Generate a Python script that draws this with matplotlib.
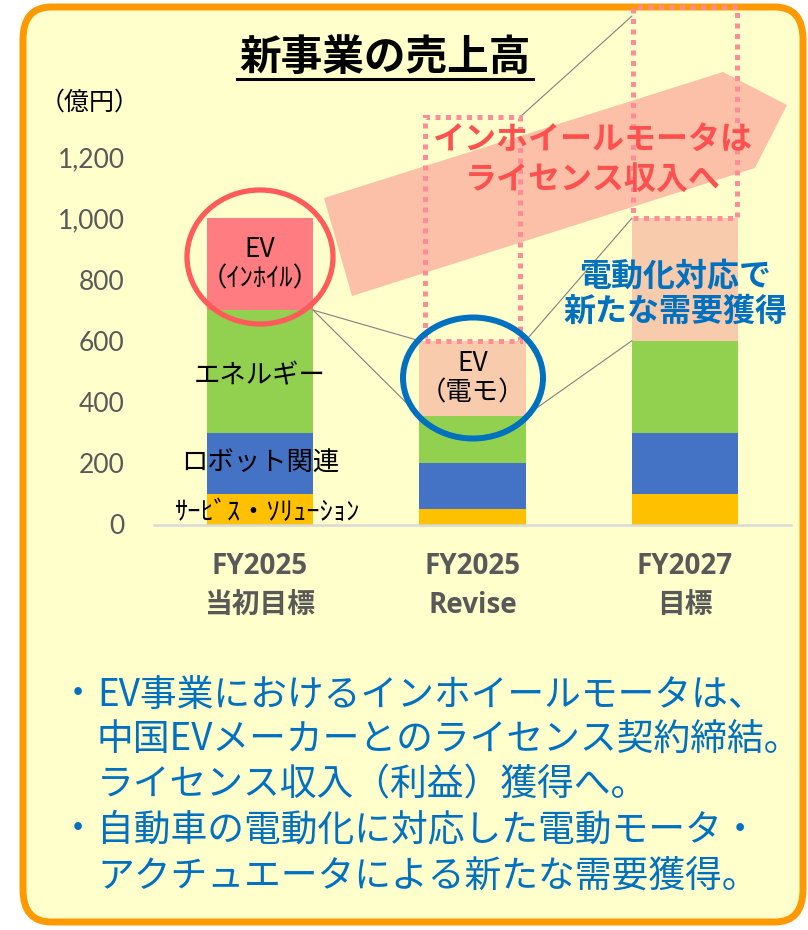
import matplotlib
matplotlib.use('Agg')
import matplotlib.pyplot as plt
from matplotlib.patches import FancyBboxPatch, Polygon, Ellipse, Rectangle
from matplotlib.lines import Line2D
import numpy as np

# ---------------- data ----------------
categories = ["FY2025\n当初目標", "FY2025\nRevise", "FY2027\n目標"]
service = [100, 50, 100]          # サービス・ソリューション
robot = [200, 150, 200]           # ロボット関連
energy = [400, 155, 300]          # エネルギー
ev_inwheel = [300, 0, 0]          # EV（インホイル）
ev_motor = [0, 245, 400]          # EV（電モ）
inwheel_license = [0, 730, 690]   # dotted outline: in-wheel -> license
yticks = [0, 200, 400, 600, 800, 1000, 1200]
ytick_labels = ["0", "200", "400", "600", "800", "1,000", "1,200"]

plt.rcParams['font.family'] = ['Noto Sans CJK JP', 'DejaVu Sans']

W, H = 808, 930
fig = plt.figure(figsize=(W / 100, H / 100), dpi=100)
fig.patch.set_facecolor('white')


def P(x, y):
    return (x / W, 1 - y / H)


# background panel with orange rounded border
panel = FancyBboxPatch(P(23, 922), (803 - 23) / W, (922 - 7) / H,
                       boxstyle="round,pad=0,rounding_size=0.035",
                       transform=fig.transFigure, facecolor='#FFFFCC',
                       edgecolor='#FF9900', linewidth=5, zorder=0)
fig.add_artist(panel)

# ---------------- axes ----------------
ax = fig.add_axes([153.75 / W, (H - 524.5) / H, 637.5 / W, 367.5 / H])
ax.set_facecolor('none')
ax.set_xlim(-0.5, 2.5)
ax.set_ylim(0, 1200)

x = np.arange(len(categories))
bw = 0.5
s = np.array(service)
r = np.array(robot)
e = np.array(energy)
ei = np.array(ev_inwheel)
em = np.array(ev_motor)
lic = np.array(inwheel_license)

b1 = s
b2 = s + r
b3 = s + r + e
b4 = b3 + ei
total = b4 + em

ax.bar(x, s, bw, color='#FFC000', zorder=2)
ax.bar(x, r, bw, bottom=b1, color='#4472C4', zorder=2)
ax.bar(x, e, bw, bottom=b2, color='#92D050', zorder=2)
ax.bar(x, ei, bw, bottom=b3, color='#FF7C80', zorder=2)
ax.bar(x, em, bw, bottom=b4, color='#F8CBAD', zorder=2)

# dotted outlines (license portion)
lic_w = [0.5, 0.445, 0.49]
for i in range(len(x)):
    if lic[i] > 0:
        rect = Rectangle((x[i] - lic_w[i] / 2, total[i]), lic_w[i], lic[i],
                         fill=False, edgecolor='#FF8C96', linewidth=3.6,
                         linestyle=(0, (1, 1.1)), clip_on=False, zorder=4)
        ax.add_patch(rect)

# series lines
lc = dict(color='#808080', lw=0.8, zorder=3, clip_on=False)
ax.plot([0.25, 0.75], [b3[0], b3[1]], **lc)
ax.plot([0.25, 0.75], [b3[0], total[1]], **lc)
ax.plot([1.25, 1.75], [b3[1], b3[2]], **lc)
ax.plot([1.25, 1.75], [total[1], total[2]], **lc)
ax.plot([1 + lic_w[1] / 2, 1.75], [total[1] + lic[1], total[2] + lic[2] - 30], **lc)

# axes styling
for sp in ['top', 'right', 'left']:
    ax.spines[sp].set_visible(False)
ax.spines['bottom'].set_color('#D9D9D9')
ax.spines['bottom'].set_linewidth(1.8)
ax.spines['bottom'].set_zorder(5)
ax.set_yticks(yticks, ytick_labels)
ax.tick_params(axis='y', length=0, pad=21, labelsize=19, labelcolor='#595959')
for t in ax.get_yticklabels():
    t.set_fontfamily(['Lato', 'DejaVu Sans'])
ax.set_xticks(x, categories)
ax.tick_params(axis='x', length=0, pad=20, labelsize=20, labelcolor='#595959')
for t in ax.get_xticklabels():
    t.set_fontfamily(['Open Sans', 'Noto Sans CJK JP'])
    t.set_fontweight('bold')
    t.set_linespacing(1.45)

# segment labels
lab = dict(ha='center', va='center', fontsize=19, color='black', zorder=6)
ax.text(x[0], b3[0] + ei[0] / 2, "EV\n（ｲﾝﾎｲﾙ）", linespacing=1.15, **lab)
ax.text(x[0], b2[0] + e[0] / 2 - 15, "エネルギー", **lab)
ax.text(x[0], b1[0] + r[0] / 2, "ロボット関連", **lab)
ax.text(x[0] + 0.03, s[0] / 2 - 10, "ｻｰﾋﾞｽ・ｿﾘｭｰｼｮﾝ", **lab)
ax.text(x[1], b4[1] + em[1] / 2, "EV\n（電モ）", linespacing=1.15, **lab)

# ---------------- decorations (figure pixel coords) ----------------
arrow = Polygon([P(324, 198), P(723, 72), P(787, 105), P(755, 168), P(352, 296)],
                closed=True, transform=fig.transFigure, facecolor='#FCC0A8',
                edgecolor='none', zorder=1)
fig.add_artist(arrow)
ax.set_zorder(2)

red_c = Ellipse(P(260, 257), 146 / W, 134 / H, transform=fig.transFigure,
                fill=False, edgecolor='#FF5B5B', linewidth=3.8, zorder=10)
fig.add_artist(red_c)
blue_c = Ellipse(P(473, 378), 140 / W, 121 / H, transform=fig.transFigure,
                 fill=False, edgecolor='#0070C0', linewidth=4.3, zorder=10)
fig.add_artist(blue_c)

# title
fig.text(*P(385, 58), "新事業の売上高", ha='center', va='center', fontsize=30,
         fontweight='bold', color='black')
fig.add_artist(Line2D([237 / W, 533 / W], [1 - 79 / H, 1 - 79 / H],
                      transform=fig.transFigure, color='black', lw=2.2))
fig.text(*P(40, 103), "（億円）", ha='left', va='center', fontsize=18, color='black')

# annotations
fig.text(*P(593, 140), "インホイールモータは", ha='center', va='center', fontsize=23,
         fontweight='bold', color='#FF5050', zorder=11)
fig.text(*P(593, 180), "ライセンス収入へ", ha='center', va='center', fontsize=23,
         fontweight='bold', color='#FF5050', zorder=11)
fig.text(*P(675, 276), "電動化対応で", ha='center', va='center', fontsize=23,
         fontweight='bold', color='#0070C0', zorder=11)
fig.text(*P(675, 312), "新たな需要獲得", ha='center', va='center', fontsize=23,
         fontweight='bold', color='#0070C0', zorder=11)

# bottom text
blue = '#0070C0'
lines = [("・", "EV事業におけるインホイールモータは、"),
         ("", "中国EVメーカーとのライセンス契約締結。"),
         ("", "ライセンス収入（利益）獲得へ。"),
         ("・", "自動車の電動化に対応した電動モータ・"),
         ("", "アクチュエータによる新たな需要獲得。")]
ys = [695, 740, 785, 830, 876]
for (bul, txt), yy in zip(lines, ys):
    if bul:
        fig.text(*P(96, yy), bul, ha='right', va='center', fontsize=26, color=blue)
    fig.text(*P(97, yy), txt, ha='left', va='center', fontsize=26.5, color=blue)

fig.savefig('out.png', dpi=100, facecolor='white')
